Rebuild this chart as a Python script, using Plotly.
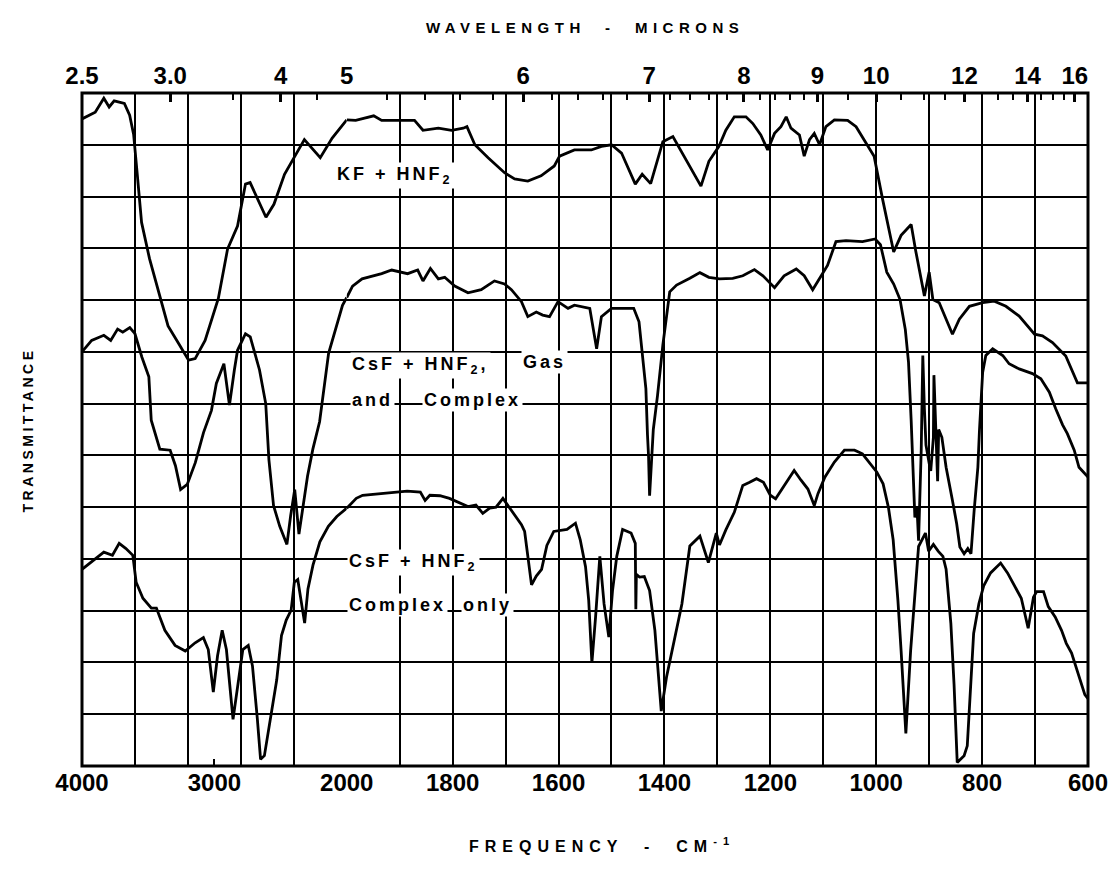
import plotly.graph_objects as go

# ---------------- data (wavenumber cm^-1, transmittance in chart-grid units 0..13) ----------------
KF_WN = [4000, 3900, 3835, 3795, 3757, 3680, 3640, 3610, 3585, 3550,
         3490, 3410, 3350, 3270, 3195, 3145, 3070, 2970, 2900, 2825,
         2765, 2730, 2610, 2550, 2470, 2385, 2320, 2200, 2110, 2000,
         1983, 1949, 1934, 1900, 1872, 1856, 1827, 1802, 1780, 1773,
         1758, 1733, 1702, 1683, 1658, 1633, 1608, 1598, 1570, 1538,
         1519, 1500, 1481, 1455, 1442, 1426, 1403, 1384, 1365, 1331,
         1316, 1297,
         1284, 1268, 1246, 1233, 1218, 1205, 1192, 1180, 1170, 1161,
         1145, 1136, 1126, 1117, 1107, 1095, 1079, 1054, 1038, 1019,
         1004, 988, 967, 953, 934, 925, 909, 900, 893, 881,
         856, 843, 824, 799, 777, 755, 730, 701, 686, 667,
         642, 620, 600]
KF_T = [12.5, 12.63, 12.9, 12.73, 12.85, 12.8, 12.57, 12.2, 11.5, 10.5,
        9.8, 9.05, 8.5, 8.16, 7.84, 7.87, 8.22, 9.03, 9.99, 10.43,
        11.24, 11.27, 10.6, 10.85, 11.43, 11.81, 12.1, 11.75, 12.13, 12.48,
        12.47, 12.56, 12.47, 12.47, 12.47, 12.28, 12.32, 12.28, 12.32, 12.35,
        12.0, 11.75, 11.46, 11.34, 11.3, 11.4, 11.59, 11.78, 11.9, 11.9,
        11.97, 12.0, 11.84, 11.24, 11.43, 11.25, 12.06, 12.16, 11.81, 11.2,
        11.68, 11.97,
        12.28, 12.54, 12.54, 12.41, 12.19, 11.9, 12.22, 12.35, 12.54, 12.32,
        12.19, 11.78, 12.1, 12.22, 12.0, 12.35, 12.48, 12.47, 12.35, 12.03,
        11.78, 10.95, 9.93, 10.25, 10.46, 9.93, 9.08, 9.54, 9.01, 8.95,
        8.34, 8.63, 8.88, 8.95, 8.98, 8.88, 8.69, 8.34, 8.31, 8.18,
        7.92, 7.4, 7.4]

GAS_WN = [4000, 3927, 3835, 3783, 3731, 3692, 3639, 3600, 3548, 3495,
          3477, 3412, 3334, 3294, 3255, 3205, 3144, 3082, 3022, 2985,
          2928, 2886, 2849, 2825, 2765, 2729, 2659, 2612, 2588, 2553,
          2506, 2452, 2424, 2393, 2361, 2335, 2296, 2256, 2205, 2137,
          2084, 2032, 2000,
          1989, 1971, 1934, 1915, 1885, 1866, 1856, 1842, 1827, 1815,
          1796, 1771, 1746, 1721, 1702, 1689, 1670, 1658, 1642, 1630,
          1617, 1601, 1582, 1570, 1557, 1541, 1528, 1519, 1500, 1474,
          1458, 1448, 1442, 1435, 1432, 1430, 1428, 1425, 1421, 1413,
          1403, 1390, 1377, 1352, 1333, 1316, 1296, 1271, 1252, 1230,
          1214, 1192, 1174, 1151, 1136, 1120, 1107, 1092, 1076, 1057,
          1026, 1002, 992, 980, 967, 955, 945, 939, 934, 930,
          927, 923, 920, 915, 912, 909, 906, 900, 897, 892,
          891, 884, 882, 876, 868, 856, 848, 842, 834, 827,
          821, 815, 808, 805, 799, 793, 780, 761, 749, 730,
          705, 689, 673, 661, 648, 639, 626, 617, 604, 600]
GAS_T = [8.0, 8.22, 8.32, 8.22, 8.44, 8.38, 8.47, 8.35, 7.9, 7.52,
         6.68, 6.12, 6.1, 5.8, 5.34, 5.44, 5.86, 6.44, 6.87, 7.39,
         7.77, 6.97, 7.65, 8.03, 8.35, 8.29, 7.65, 7.0, 5.92, 5.03,
         4.63, 4.28, 4.83, 5.34, 4.48, 4.96, 5.6, 6.12, 6.65, 7.97,
         8.42, 8.9, 9.05,
         9.27, 9.41, 9.51, 9.58, 9.51, 9.58, 9.37, 9.61, 9.41, 9.44,
         9.27, 9.14, 9.2, 9.37, 9.31, 9.2, 8.97, 8.68, 8.77, 8.71,
         8.68, 8.97, 8.84, 8.9, 8.87, 8.84, 8.06, 8.68, 8.84, 8.84,
         8.84, 8.58, 8.0, 7.29, 6.4, 5.99, 5.22, 5.8, 6.5, 7.16,
         8.13, 9.16, 9.29, 9.42, 9.53, 9.44, 9.41, 9.42, 9.47, 9.59,
         9.47, 9.24, 9.47, 9.6, 9.47, 9.2, 9.41, 9.67, 10.13, 10.15,
         10.13, 10.18, 10.07, 9.54, 9.31, 9.01, 8.43, 7.8, 6.68, 5.77,
         4.8, 5.0, 4.35, 6.1, 7.93, 6.9, 6.2, 5.85, 5.7, 6.35,
         7.55, 5.5, 6.5, 6.35, 5.77, 5.13, 4.68, 4.23, 4.1, 4.2,
         4.1, 4.94, 5.77, 6.48, 7.6, 7.93, 8.06, 7.93, 7.77, 7.67,
         7.58, 7.48, 7.22, 6.9, 6.59, 6.42, 6.1, 5.77, 5.61, 5.58]

CPX_WN = [4000, 3938, 3835, 3770, 3719, 3668, 3616, 3591, 3540, 3476,
          3438, 3374, 3297, 3220, 3145, 3083, 3046, 3008, 2976, 2941,
          2909, 2859, 2822, 2785, 2744, 2712, 2676, 2651, 2622, 2578,
          2529, 2493, 2457, 2420, 2396, 2370, 2344, 2318, 2293, 2255,
          2203, 2139, 2075, 2000,
          1982, 1970, 1947, 1917, 1886, 1861, 1852, 1843, 1824, 1806,
          1787, 1771, 1756, 1743, 1730, 1718, 1705, 1696, 1686, 1670,
          1664, 1658, 1651, 1642, 1632, 1622, 1609, 1584, 1568, 1559,
          1549, 1543, 1537, 1530, 1522, 1514, 1505, 1498, 1490, 1479,
          1463, 1455, 1454, 1453, 1447, 1438, 1428, 1418, 1406, 1396,
          1383, 1367, 1352, 1333, 1317, 1302, 1296, 1284, 1268, 1252,
          1239, 1226, 1213, 1200, 1190, 1181, 1168, 1155, 1142, 1129,
          1117, 1110, 1097, 1079, 1060, 1041, 1026, 1011, 999, 987,
          977, 968, 959, 953, 944, 935, 926, 920, 907, 901,
          892, 883, 874, 868, 859, 853, 847, 834, 828, 822,
          816, 806, 797, 784, 765, 752, 739, 726, 713, 703,
          697, 684, 675, 662, 650, 641, 631, 619, 606, 600]
CPX_T = [3.8, 3.93, 4.13, 4.07, 4.3, 4.2, 4.07, 3.55, 3.24, 3.05,
         3.05, 2.62, 2.33, 2.22, 2.38, 2.48, 2.25, 1.43, 2.13, 2.62,
         2.25, 0.9, 1.6, 2.25, 2.33, 1.93, 0.93, 0.13, 0.2, 0.93,
         1.66, 2.52, 2.82, 3.01, 3.55, 3.6, 3.16, 2.76, 3.42, 3.88,
         4.33, 4.63, 4.82, 4.98,
         5.17, 5.23, 5.25, 5.27, 5.31, 5.29, 5.13, 5.23, 5.22, 5.17,
         5.08, 5.01, 5.04, 4.88, 4.98, 5.0, 5.17, 5.04, 4.88, 4.66,
         4.53, 4.05, 3.5, 3.67, 3.8, 4.26, 4.53, 4.57, 4.69, 4.37,
         3.85, 3.2, 1.99, 2.88, 4.05, 3.13, 2.49, 3.39, 4.05, 4.57,
         4.5, 4.3, 3.03, 3.7, 3.65, 3.66, 3.39, 2.62, 1.06, 1.72,
         2.36, 3.13, 4.25, 4.44, 3.93, 4.5, 4.27, 4.56, 4.9, 5.42,
         5.48, 5.55, 5.48, 5.23, 5.16, 5.3, 5.52, 5.71, 5.52, 5.35,
         5.03, 5.26, 5.58, 5.87, 6.1, 6.1, 6.03, 5.84, 5.68, 5.45,
         5.0, 4.37, 3.2, 2.23, 0.63, 2.23, 3.55, 4.24, 4.5, 4.15,
         4.28, 4.15, 4.05, 3.8, 2.75, 1.58, 0.07, 0.2, 0.39, 1.58,
         2.56, 3.14, 3.48, 3.73, 3.92, 3.73, 3.48, 3.24, 2.66, 3.26,
         3.37, 3.37, 3.08, 2.88, 2.62, 2.37, 2.18, 1.8, 1.38, 1.3]

# axis ticks / grid
BOTTOM_LEFT_TICKS = [4000, 3000, 2000]
BOTTOM_RIGHT_TICKS = [1800, 1600, 1400, 1200, 1000, 800, 600]
LEFT_GRID = [3600, 3200, 2800, 2400]
RIGHT_GRID = [1900, 1700, 1500, 1300, 1100, 900, 700]
MICRON_LEFT = [2.5, 3.0, 4, 5]
MICRON_LEFT_LABELS = ["2.5", "3.0", "4", "5"]
MICRON_RIGHT = [6, 7, 8, 9, 10, 12, 14, 16]
MICRON_RIGHT_LABELS = ["6", "7", "8", "9", "10", "12", "14", "16"]
MICRON_LEFT_MINOR = [3.5, 4.5]
MICRON_RIGHT_MINOR = [5.2, 5.4, 5.6, 5.8, 6.2, 6.4, 6.6, 6.8, 7.2, 7.4, 7.6, 7.8,
                      8.2, 8.4, 8.6, 8.8, 9.5, 10.5, 11, 11.5, 13, 13.5, 14.5, 15, 15.5]

# ---------------- figure ----------------
SPLIT = 2000
LEFT_CELLS = (4000 - SPLIT) / 400
RIGHT_CELLS = (SPLIT - 600) / 100
LEFT_FRAC = LEFT_CELLS / (LEFT_CELLS + RIGHT_CELLS)

LINE = dict(color="black", width=2.8)
FONT = "Liberation Sans"
TICKFONT = dict(family=FONT, size=24, color="black", weight="bold")


def part(wn, t, left):
    xs, ys = [], []
    for w, v in zip(wn, t):
        if (w >= SPLIT) if left else (w <= SPLIT):
            xs.append(w)
            ys.append(v)
    return xs, ys


fig = go.Figure()
for wn, t, name in [(KF_WN, KF_T, "KF + HNF2"),
                    (GAS_WN, GAS_T, "CsF + HNF2, Gas and Complex"),
                    (CPX_WN, CPX_T, "CsF + HNF2 Complex only")]:
    for left in (True, False):
        xs, ys = part(wn, t, left)
        fig.add_trace(go.Scatter(x=xs, y=ys, mode="lines", line=LINE, name=name,
                                 xaxis="x" if left else "x2", yaxis="y",
                                 showlegend=False, hoverinfo="skip"))

# empty traces so that the wavelength (top) axes are created
for ax in ("x3", "x4"):
    fig.add_trace(go.Scatter(x=[], y=[], mode="lines", xaxis=ax, yaxis="y",
                             showlegend=False, hoverinfo="skip"))

grid = dict(gridcolor="black", gridwidth=1.6)
common = dict(automargin=False, zeroline=False, showline=False, fixedrange=True)

fig.update_layout(
    template="none",
    width=1113, height=880,
    margin=dict(l=82, r=25, t=93, b=114, pad=0, autoexpand=False),
    paper_bgcolor="white", plot_bgcolor="white",
    showlegend=False,
    xaxis=dict(domain=[0, LEFT_FRAC], range=[4000, SPLIT], anchor="y",
               tickmode="array", tickvals=BOTTOM_LEFT_TICKS,
               ticktext=[str(v) for v in BOTTOM_LEFT_TICKS],
               ticks="inside", ticklen=7, tickwidth=2, tickcolor="black",
               showgrid=False, tickfont=TICKFONT, ticklabelstandoff=0,
               minor=dict(tickmode="array", tickvals=LEFT_GRID, showgrid=True,
                          ticks="", **grid), **common),
    xaxis2=dict(domain=[LEFT_FRAC, 1], range=[SPLIT, 600], anchor="y",
                tickmode="array", tickvals=BOTTOM_RIGHT_TICKS,
                ticktext=[str(v) for v in BOTTOM_RIGHT_TICKS],
                ticks="", showgrid=True, tickfont=TICKFONT, ticklabelstandoff=0,
                minor=dict(tickmode="array", tickvals=RIGHT_GRID, showgrid=True,
                           ticks="", **grid), **grid, **common),
    xaxis3=dict(overlaying="x", side="top", anchor="y", range=[4000, SPLIT],
                tickmode="array", tickvals=[1e4 / m for m in MICRON_LEFT],
                ticktext=MICRON_LEFT_LABELS,
                ticks="inside", ticklen=9, tickwidth=2.5, tickcolor="black",
                showgrid=False, tickfont=TICKFONT, ticklabelstandoff=3,
                minor=dict(tickmode="array", tickvals=[1e4 / m for m in MICRON_LEFT_MINOR],
                           ticks="inside", ticklen=7, tickwidth=2, tickcolor="black",
                           showgrid=False), **common),
    xaxis4=dict(overlaying="x2", side="top", anchor="y", range=[SPLIT, 600],
                tickmode="array", tickvals=[1e4 / m for m in MICRON_RIGHT],
                ticktext=MICRON_RIGHT_LABELS,
                ticks="inside", ticklen=9, tickwidth=2.5, tickcolor="black",
                showgrid=False, tickfont=TICKFONT, ticklabelstandoff=3,
                minor=dict(tickmode="array", tickvals=[1e4 / m for m in MICRON_RIGHT_MINOR],
                           ticks="inside", ticklen=7, tickwidth=2, tickcolor="black",
                           showgrid=False), **common),
    yaxis=dict(range=[0, 13], tickmode="linear", tick0=0, dtick=1,
               showgrid=True, showticklabels=False, ticks="", **grid, **common),
)

fig.add_shape(type="rect", xref="paper", yref="paper", x0=0, x1=1, y0=0, y1=1,
              line=dict(color="black", width=3), layer="above")

LBL = dict(family=FONT, size=18, color="black", weight="bold")
labels = [
    ("KF + HNF<sub>2</sub>", "x", 2089, 11.40),
    ("CsF + HNF<sub>2</sub>,", "x2", 1994, 7.74),
    ("Gas", "x2", 1670, 7.80),
    ("and", "x2", 1994, 7.07),
    ("Complex", "x2", 1858, 7.07),
    ("CsF + HNF<sub>2</sub>", "x2", 1999, 3.94),
    ("Complex", "x2", 1999, 3.11),
    ("only", "x2", 1785, 3.11),
]
for txt, xr, xv, yv in labels:
    fig.add_annotation(text=txt, xref=xr, yref="y", x=xv, y=yv, xanchor="left",
                       yanchor="middle", showarrow=False, font=LBL,
                       bgcolor="white", borderpad=1)

fig.add_annotation(text="WAVELENGTH  -  MICRONS", xref="paper", yref="paper",
                   x=0.5, y=1.098, xanchor="center", yanchor="middle",
                   showarrow=False,
                   font=dict(family=FONT, size=15, color="black", weight="bold"))
fig.add_annotation(text="FREQUENCY  -  CM<sup>-1</sup>", xref="paper", yref="paper",
                   x=0.517, y=-0.117, xanchor="center", yanchor="middle",
                   showarrow=False,
                   font=dict(family=FONT, size=16, color="black", weight="bold"))
fig.add_annotation(text="TRANSMITTANCE", xref="paper", yref="paper",
                   x=-0.0537, y=0.5, xanchor="center", yanchor="middle",
                   textangle=-90, showarrow=False,
                   font=dict(family=FONT, size=14, color="black", weight="bold"))

POST = """
document.body.style.margin = '0';
document.body.style.overflow = 'hidden';
var gd = document.getElementById('{plot_id}');
var st = document.createElement('style');
st.textContent = "text.annotation-text[style*='font-size: 14px']{letter-spacing:3.5px;}" +
  "text.annotation-text[style*='font-size: 15px']{letter-spacing:5.5px;}" +
  "text.annotation-text[style*='font-size: 16px']{letter-spacing:6px;}" +
  "text.annotation-text[style*='font-size: 18px']{letter-spacing:3px;}";
document.head.appendChild(st);
var upd = {};
(gd.layout.annotations || []).forEach(function(a, i){
  upd['annotations[' + i + '].font.family'] = a.font.family + ', sans-serif';
});
Plotly.relayout(gd, upd);
"""

fig.write_html("out.html", post_script=POST,
               config={"displayModeBar": False, "responsive": False})
